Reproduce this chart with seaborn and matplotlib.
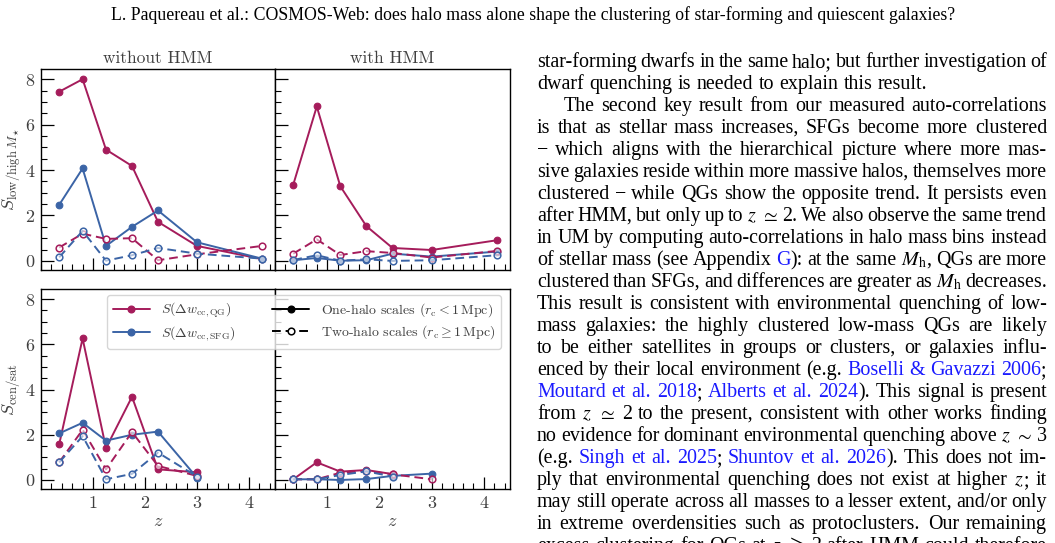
import numpy as np
import pandas as pd
import matplotlib
matplotlib.use("Agg")
import matplotlib.pyplot as plt
import seaborn as sns
from matplotlib.lines import Line2D
from matplotlib.ticker import MultipleLocator, FixedLocator

# ---------------- data ----------------
z_top = [0.35, 0.8, 1.25, 1.75, 2.25, 3.0, 4.25]
z_bot = [0.35, 0.8, 1.25, 1.75, 2.25, 3.0]
z_ticks = [1, 2, 3, 4]

# S_low/high M*, without HMM
qg_one_mass_raw = [7.45, 8.00, 4.90, 4.18, 1.72, 0.66, 0.08]
sfg_one_mass_raw = [2.47, 4.07, 0.66, 1.50, 2.22, 0.82, 0.10]
qg_two_mass_raw = [0.59, 1.20, 0.97, 1.00, 0.03, 0.29, 0.66]
sfg_two_mass_raw = [0.16, 1.32, 0.01, 0.25, 0.57, 0.32, 0.10]
# S_low/high M*, with HMM
qg_one_mass_hmm = [3.36, 6.80, 3.29, 1.53, 0.57, 0.48, 0.91]
sfg_one_mass_hmm = [0.03, 0.13, 0.01, 0.03, 0.32, 0.19, 0.41]
qg_two_mass_hmm = [0.32, 0.95, 0.26, 0.43, 0.35, 0.15, 0.44]
sfg_two_mass_hmm = [0.04, 0.25, 0.01, 0.07, 0.00, 0.03, 0.25]
# S_cen/sat, without HMM
qg_one_cen_raw = [1.58, 6.26, 1.41, 3.68, 0.47, 0.34]
sfg_one_cen_raw = [2.06, 2.53, 1.74, 2.00, 2.14, 0.10]
qg_two_cen_raw = [0.78, 2.22, 0.47, 2.12, 0.62, 0.18]
sfg_two_cen_raw = [0.78, 1.94, 0.03, 0.27, 1.21, 0.15]
# S_cen/sat, with HMM
qg_one_cen_hmm = [0.03, 0.78, 0.37, 0.44, 0.26, np.nan]
sfg_one_cen_hmm = [0.03, 0.03, 0.00, 0.04, 0.18, 0.28]
qg_two_cen_hmm = [0.03, 0.03, 0.32, 0.40, 0.25, 0.03]
sfg_two_cen_hmm = [0.03, 0.03, 0.22, 0.38, 0.15, np.nan]

panel_titles = ["without HMM", "with HMM"]
legend_labels = [r"$S(\Delta w_{\rm cc,QG})$", r"$S(\Delta w_{\rm cc,SFG})$",
                 r"One-halo scales ($r_{\rm c} < 1\,{\rm Mpc}$)",
                 r"Two-halo scales ($r_{\rm c} \geq 1\,{\rm Mpc}$)"]

header = ("L. Paquereau et al.: COSMOS-Web: does halo mass alone shape the "
          "clustering of star-forming and quiescent galaxies?")
body_lines = [
    ("star-forming dwarfs in the same halo; but further investigation of", "j", 0),
    ("dwarf quenching is needed to explain this result.", "l", 0),
    ("The second key result from our measured auto-correlations", "j", 1),
    ("is that as stellar mass increases, SFGs become more clustered", "j", 0),
    ("\u2212 which aligns with the hierarchical picture where more mas-", "j", 0),
    ("sive galaxies reside within more massive halos, themselves more", "j", 0),
    ("clustered \u2212 while QGs show the opposite trend. It persists even", "j", 0),
    (r"after HMM, but only up to $z$ $\simeq$ 2. We also observe the same trend", "j", 0),
    ("in UM by computing auto-correlations in halo mass bins instead", "j", 0),
    (r"of stellar mass (see Appendix «G»): at the same $M_{\rm h}$, QGs are more", "j", 0),
    (r"clustered than SFGs, and differences are greater as $M_{\rm h}$ decreases.", "j", 0),
    ("This result is consistent with environmental quenching of low-", "j", 0),
    ("mass galaxies: the highly clustered low-mass QGs are likely", "j", 0),
    ("to be either satellites in groups or clusters, or galaxies influ-", "j", 0),
    ("enced by their local environment (e.g. «Boselli & Gavazzi 2006»;", "j", 0),
    ("«Moutard et al. 2018»; «Alberts et al. 2024»). This signal is present", "j", 0),
    (r"from $z$ $\simeq$ 2 to the present, consistent with other works finding", "j", 0),
    (r"no evidence for dominant environmental quenching above $z$ $\sim$ 3", "j", 0),
    ("(e.g. «Singh et al. 2025»; «Shuntov et al. 2026»). This does not im-", "j", 0),
    (r"ply that environmental quenching does not exist at higher $z$; it", "j", 0),
    ("may still operate across all masses to a lesser extent, and/or only", "j", 0),
    ("in extreme overdensities such as protoclusters. Our remaining", "j", 0),
    (r"excess clustering for QGs at $z$ $\gtrsim$ 2 after HMM could therefore", "j", 0),
]

# ---------------- style ----------------
QG = "#a51c5b"
SFG = "#3b64a6"
LINK = "#1a1aff"
W, H = 1055, 543

sns.set_style("ticks")
plt.rcParams.update({
    "font.family": ["cmr10", "DejaVu Serif"],
    "mathtext.fontset": "cm",
    "axes.formatter.use_mathtext": True,
    "text.color": "0.25",
    "axes.labelcolor": "0.25",
    "xtick.color": "black",
    "ytick.color": "black",
    "xtick.labelcolor": "0.25",
    "ytick.labelcolor": "0.25",
    "axes.edgecolor": "black",
    "axes.linewidth": 1.0,
})

fig = plt.figure(figsize=(W / 100, H / 100), dpi=100)
renderer = fig.canvas.get_renderer()


def rect(x0, x1, ytop, ybot):
    return [x0 / W, 1 - ybot / H, (x1 - x0) / W, (ybot - ytop) / H]


ax_tl = fig.add_axes(rect(41, 275, 69, 270))
ax_tr = fig.add_axes(rect(275, 510, 69, 270))
ax_bl = fig.add_axes(rect(41, 275, 289, 489))
ax_br = fig.add_axes(rect(275, 510, 289, 489))

DASH = (0, (4.5, 2.5))


def draw(ax, z, y, color, dashed):
    d = pd.DataFrame({"z": z, "S": y}).dropna()
    if dashed:
        sns.lineplot(data=d, x="z", y="S", ax=ax, color=color, lw=1.4,
                     linestyle=DASH, marker="o", ms=4.8, mfc=(1, 1, 1, 0.6),
                     mec=color, mew=1.1, estimator=None, sort=False, legend=False)
    else:
        sns.lineplot(data=d, x="z", y="S", ax=ax, color=color, lw=1.4,
                     marker="o", ms=4.8, mec=color, mew=0.8,
                     estimator=None, sort=False, legend=False)


panels = [
    (ax_tl, z_top, qg_one_mass_raw, sfg_one_mass_raw, qg_two_mass_raw, sfg_two_mass_raw),
    (ax_tr, z_top, qg_one_mass_hmm, sfg_one_mass_hmm, qg_two_mass_hmm, sfg_two_mass_hmm),
    (ax_bl, z_bot, qg_one_cen_raw, sfg_one_cen_raw, qg_two_cen_raw, sfg_two_cen_raw),
    (ax_br, z_bot, qg_one_cen_hmm, sfg_one_cen_hmm, qg_two_cen_hmm, sfg_two_cen_hmm),
]
for ax, z, q1, s1, q2, s2 in panels:
    draw(ax, z, q1, QG, False)
    draw(ax, z, s1, SFG, False)
    draw(ax, z, q2, QG, True)
    draw(ax, z, s2, SFG, True)
    ax.set_xlim(0, 4.5)
    ax.set_ylim(-0.4, 8.45)
    ax.xaxis.set_major_locator(FixedLocator(z_ticks))
    ax.xaxis.set_minor_locator(MultipleLocator(0.2))
    ax.yaxis.set_major_locator(MultipleLocator(2))
    ax.yaxis.set_minor_locator(MultipleLocator(0.5))
    ax.tick_params(which="both", direction="in", top=False, right=False)
    ax.tick_params(which="major", length=9, width=0.9, labelsize=13, pad=4)
    ax.tick_params(which="minor", length=4.5, width=0.8)
    ax.set_xlabel("")
    ax.set_ylabel("")

for ax in (ax_tl, ax_tr):
    ax.tick_params(labelbottom=False)
for ax in (ax_tr, ax_br):
    ax.tick_params(labelleft=False)

ax_tl.set_title(panel_titles[0], fontsize=12.5, pad=4, color="0.25")
ax_tr.set_title(panel_titles[1], fontsize=12.5, pad=4, color="0.25")
ax_tl.set_ylabel(r"$S_{\mathrm{low/high}\,M_\star}$", fontsize=13, labelpad=2)
ax_bl.set_ylabel(r"$S_{\mathrm{cen/sat}}$", fontsize=13, labelpad=2)
ax_bl.set_xlabel(r"$z$", fontsize=13, labelpad=2)
ax_br.set_xlabel(r"$z$", fontsize=13, labelpad=2)

handles = [
    Line2D([], [], color=QG, lw=1.4, marker="o", ms=4.8),
    Line2D([], [], color=SFG, lw=1.4, marker="o", ms=4.8),
    Line2D([], [], color="black", lw=1.4, marker="o", ms=4.8),
    Line2D([], [], color="black", lw=1.4, linestyle=DASH, marker="o", ms=4.8,
           mfc="white", mec="black", mew=1.1),
]
leg = fig.legend(handles, legend_labels, ncol=2, loc="upper left",
                 bbox_to_anchor=(107 / W, 1 - 295 / H), borderaxespad=0,
                 fontsize=10, frameon=True, framealpha=0.8, edgecolor="0.8",
                 fancybox=True, handlelength=2.7, handletextpad=0.8,
                 columnspacing=2.6, labelspacing=0.35, borderpad=0.4,
                 labelcolor="0.25")

# ---------------- page text ----------------
SERIF = "Liberation Serif"


def put(x, y, s, color, size):
    return fig.text(x / W, 1 - y / H, s, fontsize=size, color=color,
                    fontfamily=SERIF, math_fontfamily="stix",
                    va="baseline", ha="left")


def parse(s):
    words, cur, buf = [], [], ""
    blue = False
    math = False
    for ch in s:
        if ch == "«" or ch == "»":
            if buf:
                cur.append((buf, blue))
                buf = ""
            blue = (ch == "«")
        elif ch == "$":
            if not math:
                if buf:
                    cur.append((buf, blue))
                buf = "$"
                math = True
            else:
                cur.append((buf + "$", blue))
                buf = ""
                math = False
        elif ch == " " and not math:
            if buf:
                cur.append((buf, blue))
                buf = ""
            if cur:
                words.append(cur)
                cur = []
        else:
            buf += ch
    if buf:
        cur.append((buf, blue))
    if cur:
        words.append(cur)
    return words


# header
ht = fig.text(533 / W, 1 - 20 / H, header, fontsize=12, fontfamily=SERIF,
              color="black", ha="center", va="baseline")
hw = ht.get_window_extent(renderer).width
ht.set_fontsize(12 * 843 / hw)

X0, X1 = 537, 1047
INDENT = 27
BASE0, LEAD = 67, 22.0

# choose size so that natural line widths roughly fill the column
probe_size = 13.0
nat = []
for s, mode, ind in body_lines:
    if mode != "j":
        continue
    tot = 0
    for w in parse(s):
        for txt, blue in w:
            t = put(0, 0, txt, "black", probe_size)
            tot += t.get_window_extent(renderer).width
            t.remove()
    nat.append(tot + 0.25 * probe_size * 100 / 72 * (len(parse(s)) - 1) + ind * INDENT)
size = probe_size * 0.985 * (X1 - X0) / np.median(nat)

for i, (s, mode, ind) in enumerate(body_lines):
    y = BASE0 + i * LEAD
    words = parse(s)
    wt = []
    for w in words:
        pcs = []
        for txt, blue in w:
            t = put(0, y, txt, LINK if blue else "black", size)
            pcs.append((t, t.get_window_extent(renderer).width))
        wt.append(pcs)
    widths = [sum(p[1] for p in w) for w in wt]
    xs = X0 + ind * INDENT
    if mode == "j" and len(wt) > 1:
        gap = (X1 - xs - sum(widths)) / (len(wt) - 1)
    else:
        gap = 0.27 * size * 100 / 72
    x = xs
    for w, wd in zip(wt, widths):
        xx = x
        for t, pw in w:
            t.set_x(xx / W)
            xx += pw
        x += wd + gap

fig.savefig("out.png", dpi=100)
